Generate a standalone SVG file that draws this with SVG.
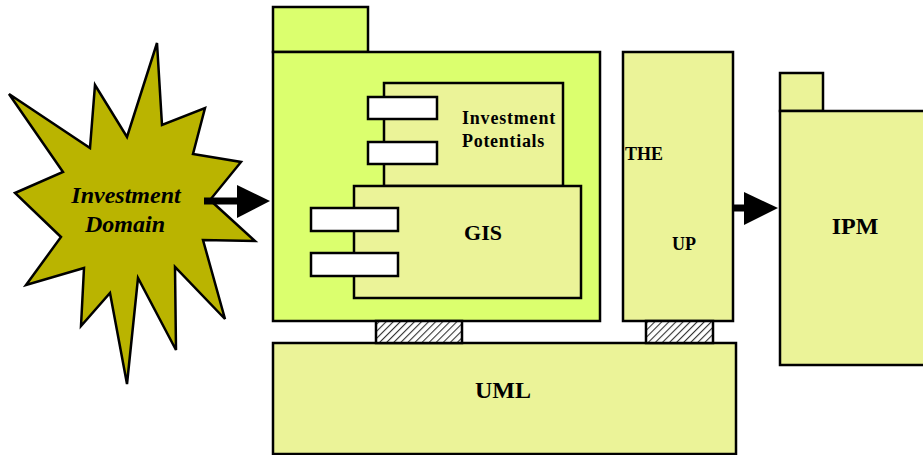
<svg xmlns="http://www.w3.org/2000/svg" width="923" height="455" viewBox="0 0 923 455">
<style>
.o{stroke:#000;stroke-width:2.5}
.lime{fill:#dbff6e}
.pale{fill:#ebf398}
.port{fill:#fff;stroke:#000;stroke-width:2.5}
.t{font-family:"Liberation Serif","Times New Roman",serif;font-weight:bold;fill:#000}
</style>
<defs>
<pattern id="hatch" patternUnits="userSpaceOnUse" width="5" height="5" patternTransform="rotate(45)">
<rect width="5" height="5" fill="#fff"/>
<line x1="0" y1="0" x2="0" y2="5" stroke="#333" stroke-width="2.2"/>
</pattern>
</defs>
<g id="investment-domain">
<polygon class="o" fill="#bab400" points="9,94 90,148 95,85 127,137 157,43 162,125 205,108 193,154 241,162 210,200 255,241 203,240 225,319 175,267 176,350 138,278 127,384 110,293 81,326 84,268 26,285 61,237 15,193 63,172"/>
<text class="t" font-style="italic" font-size="24" text-anchor="middle" x="126" y="203">Investment</text>
<text class="t" font-style="italic" font-size="24" text-anchor="middle" x="125" y="232">Domain</text>
</g>
<g id="package-main">
<rect class="o lime" x="273" y="7" width="95" height="45"/>
<rect class="o lime" x="273" y="52" width="327" height="269"/>
</g>
<g id="investment-potentials">
<rect class="o pale" x="384" y="83" width="179" height="103"/>
<rect class="port" x="368" y="97" width="69" height="22"/>
<rect class="port" x="368" y="142" width="69" height="22"/>
<text class="t" font-size="18" x="462" y="124" letter-spacing="0.8">Investment</text>
<text class="t" font-size="18" x="462" y="147" letter-spacing="0.7">Potentials</text>
</g>
<g id="gis">
<rect class="o pale" x="354" y="186" width="227" height="112"/>
<rect class="port" x="311" y="208" width="87" height="23"/>
<rect class="port" x="311" y="253" width="87" height="23"/>
<text class="t" font-size="22" text-anchor="middle" x="483" y="240">GIS</text>
</g>
<g id="the-up">
<rect class="o pale" x="623" y="52" width="110" height="269"/>
<text class="t" font-size="18" x="625" y="160">THE</text>
<text class="t" font-size="18" x="672" y="250">UP</text>
</g>
<g id="ipm">
<rect class="o pale" x="780" y="73" width="43" height="38"/>
<rect class="o pale" x="780" y="111" width="150" height="254"/>
<text class="t" font-size="24" text-anchor="middle" x="855" y="234">IPM</text>
</g>
<g id="uml">
<rect class="o pale" x="273" y="343" width="463" height="111"/>
<text class="t" font-size="24" text-anchor="middle" x="503" y="398">UML</text>
</g>
<g id="interfaces">
<rect class="o" fill="url(#hatch)" x="376" y="321" width="86" height="22"/>
<rect class="o" fill="url(#hatch)" x="646" y="321" width="67" height="22"/>
</g>
<g id="connectors">
<line x1="204" y1="201" x2="240" y2="201" stroke="#000" stroke-width="7"/>
<polygon points="237,185 270,201 237,218" fill="#000"/>
<line x1="734" y1="208" x2="746" y2="208" stroke="#000" stroke-width="7"/>
<polygon points="744,192 778,208 744,225" fill="#000"/>
</g>
</svg>
